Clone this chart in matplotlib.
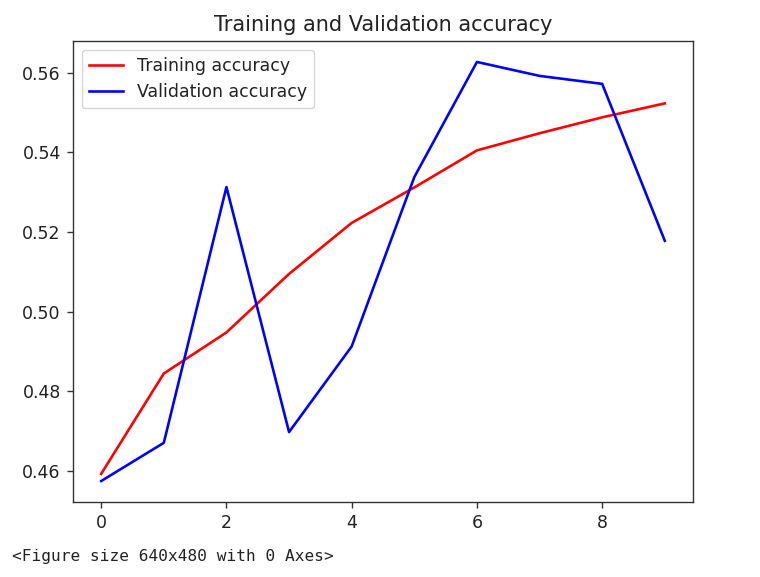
import matplotlib
matplotlib.use('Agg')
import matplotlib.pyplot as plt

# ── data ────────────────────────────────────────────────
epochs = list(range(10))
train_acc = [0.4593, 0.4845, 0.4948, 0.5095, 0.5223,
             0.5312, 0.5405, 0.5448, 0.5488, 0.5523]
val_acc = [0.4575, 0.4671, 0.5313, 0.4698, 0.4913,
           0.5338, 0.5627, 0.5592, 0.5572, 0.5178]

S = 1.25  # screenshot scale of the notebook output
W, H = 760, 577

plt.rcParams.update({
    'font.size': 10 * S,
    'axes.linewidth': 0.8 * S,
    'axes.edgecolor': '#333333',
    'text.color': '#222222',
    'xtick.labelcolor': '#222222',
    'ytick.labelcolor': '#222222',
    'xtick.color': '#333333',
    'ytick.color': '#333333',
    'xtick.major.size': 3.5 * S,
    'ytick.major.size': 3.5 * S,
    'xtick.major.width': 0.8 * S,
    'ytick.major.width': 0.8 * S,
    'xtick.major.pad': 3.5 * S,
    'ytick.major.pad': 3.5 * S,
    'lines.linewidth': 1.5 * S,
})

fig = plt.figure(figsize=(W / 100, H / 100), dpi=100)
ax = fig.add_axes([73 / W, (H - 502) / H, (693 - 73) / W, (502 - 41) / H])

ax.plot(epochs, train_acc, 'r', label='Training accuracy')
ax.plot(epochs, val_acc, 'b', label='Validation accuracy')
ax.set_title('Training and Validation accuracy', fontsize=12 * S, pad=6 * S)
ax.legend(loc='upper left')

fig.text(12 / W, 1 - 556 / H, '<Figure size 640x480 with 0 Axes>',
         family='DejaVu Sans Mono', fontsize=11.6, va='center', ha='left',
         color='#222222')

fig.savefig('out.png', dpi=100, facecolor='white')
